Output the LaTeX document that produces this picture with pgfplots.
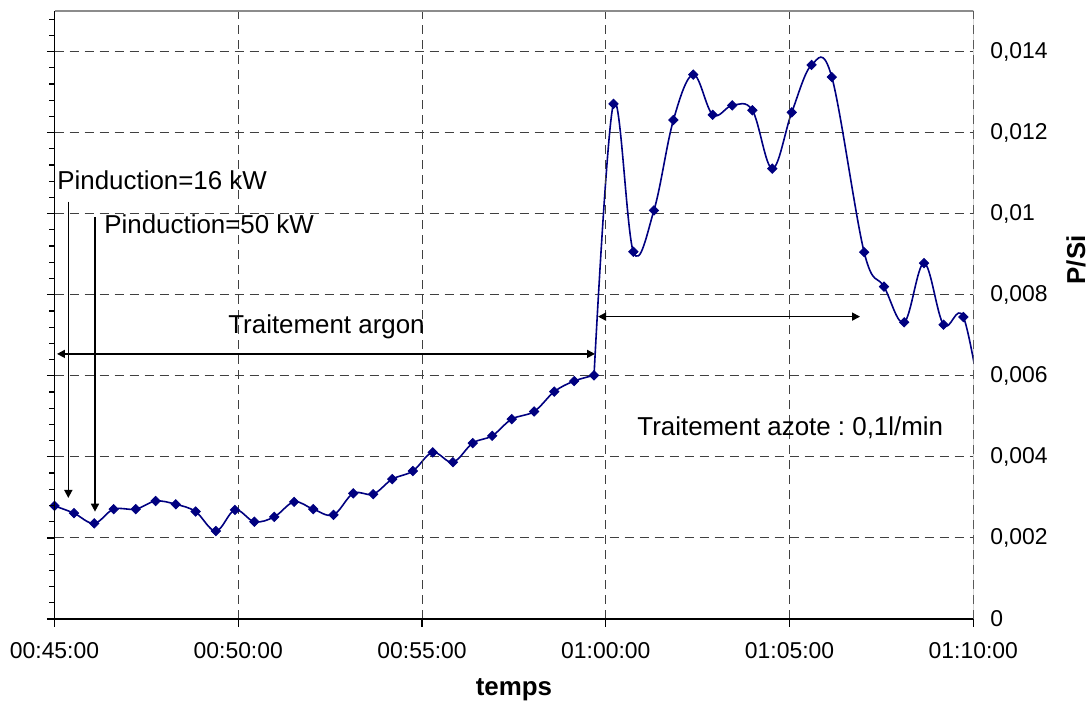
\documentclass[border=0pt]{standalone}
\usepackage{fontspec}
\setmainfont{Liberation Sans}
\usepackage{pgfplots}
\pgfplotsset{compat=1.18}
\usetikzlibrary{arrows.meta,calc}
\definecolor{navyblue}{RGB}{0,0,128}
\frenchspacing
\begin{document}
\begin{tikzpicture}[font=\fontsize{11.5}{13.5}\selectfont]
\begin{axis}[name=main, width=459.4bp, height=304bp, scale only axis,
  xmin=45, xmax=70, ymin=0, ymax=0.015,
  axis line style={draw=none},
  xtick={45,50,55,60,65,70}, xmajorticks=false,
  ytick={0,0.002,0.004,0.006,0.008,0.01,0.012,0.014},
  yticklabels={0,{0,002},{0,004},{0,006},{0,008},{0,01},{0,012},{0,014}},
  yticklabel pos=right,
  major tick length=0pt,
  tick style={draw=none},
  yticklabel style={anchor=west, xshift=5bp},
  grid=major,
  major grid style={black!75, line width=0.5bp, dash pattern=on 4.5bp off 3bp},
  clip=true,
]
% smoothed line, argon part
\addplot[navyblue, line width=0.8bp, smooth, tension=0.6, no marks] coordinates {
(45.00,0.00279) (45.53,0.00261) (46.08,0.00236) (46.61,0.00271) (47.21,0.00271)
(47.75,0.00291) (48.30,0.00283) (48.84,0.00265) (49.39,0.00217) (49.91,0.00269)
(50.44,0.00240) (50.98,0.00252) (51.52,0.00289) (52.04,0.00271) (52.59,0.00257)
(53.13,0.00310) (53.67,0.00308) (54.19,0.00345) (54.75,0.00365) (55.29,0.00411)
(55.84,0.00387) (56.38,0.00434) (56.91,0.00452) (57.44,0.00493) (58.05,0.00512)
(58.60,0.00561) (59.14,0.00587) (59.68,0.00601)
};
% smoothed line, nitrogen part
\addplot[navyblue, line width=0.8bp, smooth, tension=0.6, no marks] coordinates {
(59.68,0.00601)
(60.21,0.01271) (60.75,0.00906) (61.31,0.01008) (61.84,0.01231) (62.38,0.01343)
(62.91,0.01244) (63.44,0.01267) (63.99,0.01255) (64.53,0.01111) (65.06,0.01250)
(65.60,0.01367) (66.15,0.01337) (67.03,0.00905) (67.57,0.00820) (68.12,0.00732)
(68.66,0.00878) (69.19,0.00726) (69.73,0.00745) (70.27,0.00500)
};
% markers
\addplot[only marks, mark=square*, mark size=1.65bp,
  mark options={rotate=45, solid, fill=navyblue, draw=navyblue}] coordinates {
(45.00,0.00279) (45.53,0.00261) (46.08,0.00236) (46.61,0.00271) (47.21,0.00271)
(47.75,0.00291) (48.30,0.00283) (48.84,0.00265) (49.39,0.00217) (49.91,0.00269)
(50.44,0.00240) (50.98,0.00252) (51.52,0.00289) (52.04,0.00271) (52.59,0.00257)
(53.13,0.00310) (53.67,0.00308) (54.19,0.00345) (54.75,0.00365) (55.29,0.00411)
(55.84,0.00387) (56.38,0.00434) (56.91,0.00452) (57.44,0.00493) (58.05,0.00512)
(58.60,0.00561) (59.14,0.00587) (59.68,0.00601)
(60.21,0.01271) (60.75,0.00906) (61.31,0.01008) (61.84,0.01231) (62.38,0.01343)
(62.91,0.01244) (63.44,0.01267) (63.99,0.01255) (64.53,0.01111) (65.06,0.01250)
(65.60,0.01367) (66.15,0.01337) (67.03,0.00905) (67.57,0.00820) (68.12,0.00732)
(68.66,0.00878) (69.19,0.00726) (69.73,0.00745)
};
\draw[black!75, line width=0.5bp, dash pattern=on 4.5bp off 3bp]
  (axis cs:50,0) -- (axis cs:50,0.015)
  (axis cs:55,0) -- (axis cs:55,0.015)
  (axis cs:60,0) -- (axis cs:60,0.015)
  (axis cs:65,0) -- (axis cs:65,0.015);
\draw[black!45, line width=0.6bp] (rel axis cs:0,1) -- (rel axis cs:1,1) -- (rel axis cs:1,0);
\begin{scope}[font=\fontsize{13}{15.5}\selectfont]
\node[anchor=base west, inner sep=0] at (axis cs:45.068,0.010587) {Pinduction=16 kW};
\node[anchor=base west, inner sep=0] at (axis cs:46.347,0.009519) {Pinduction=50 kW};
\node[anchor=base, inner sep=0] at (axis cs:52.401,0.007051) {Traitement argon};
\node[anchor=base west, inner sep=0] at (axis cs:60.850,0.004516) {Traitement azote : 0,1l/min};
\end{scope}
\draw[-{Triangle[length=4bp,width=4bp]}, line width=0.8bp] (axis cs:45.376,0.010299) -- (axis cs:45.376,0.002986);
\draw[-{Triangle[length=4bp,width=4bp]}, line width=0.8bp] (axis cs:46.102,0.009921) -- (axis cs:46.102,0.002648);
\draw[{Triangle[length=4bp,width=4bp]}-{Triangle[length=4bp,width=4bp]}, line width=0.8bp] (axis cs:45.068,0.00654) -- (axis cs:59.707,0.00654);
\draw[{Triangle[length=4bp,width=4bp]}-{Triangle[length=4bp,width=4bp]}, line width=0.8bp] (axis cs:59.789,0.00746) -- (axis cs:66.918,0.00746);
\end{axis}
\begin{axis}[width=459.4bp, height=304bp, scale only axis,
  xmin=45, xmax=70, ymin=0, ymax=0.015,
  axis x line=bottom, axis y line=left,
  axis line style={-, black, line width=0.6bp},
  xtick={45,50,55,60,65,70},
  xticklabels={00:45:00,00:50:00,00:55:00,01:00:00,01:05:00,01:10:00},
  xticklabel style={yshift=-4.5bp},
  ytick={0,0.002,0.004,0.006,0.008,0.01,0.012,0.014},
  yticklabel=\empty,
  minor ytick={0.0004,0.0008,0.0012,0.0016,0.0024,0.0028,0.0032,0.0036,0.0044,0.0048,0.0052,0.0056,0.0064,0.0068,0.0072,0.0076,0.0084,0.0088,0.0092,0.0096,0.0104,0.0108,0.0112,0.0116,0.0124,0.0128,0.0132,0.0136,0.0144,0.0148},
  tick align=outside,
  major tick length=3.8bp, minor tick length=2.5bp,
  tick style={black, line width=0.6bp},
  xlabel={temps},
  xlabel style={font=\bfseries\fontsize{13}{15.5}\selectfont, at={(rel axis cs:0.5,0)}, anchor=center, yshift=-35.5bp},
]
\end{axis}
\node[rotate=90, font=\bfseries\fontsize{13}{15.5}\selectfont, inner sep=0] at ($(main.south east)+(51.35bp,179.5bp)$) {P/Si};
\pgfresetboundingbox
\path[use as bounding box] ($(main.south west)+(-27.25bp,-41.5bp)$) rectangle ($(main.north east)+(57.35bp,5.5bp)$);
\end{tikzpicture}
\end{document}
